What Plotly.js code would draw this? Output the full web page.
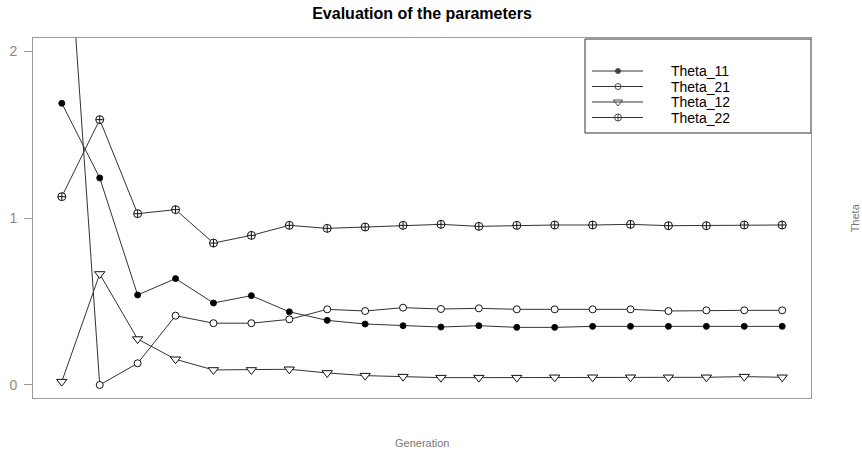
<!DOCTYPE html>
<html>
<head>
<meta charset="utf-8">
<script src="https://cdn.plot.ly/plotly-3.0.1.min.js"></script>
<style>html,body{margin:0;padding:0;background:#fff;}#chart{width:862px;height:456px;}</style>
</head>
<body>
<div id="chart"></div>
<script>
// Generations 1..20
const generation = [1,2,3,4,5,6,7,8,9,10,11,12,13,14,15,16,17,18,19,20];

// Parameter estimates per generation
const theta11 = [1.687,1.240,0.539,0.637,0.491,0.535,0.438,0.387,0.365,0.355,0.347,0.355,0.345,0.345,0.351,0.351,0.351,0.351,0.351,0.351];
const theta21 = [3.30,0.000,0.130,0.415,0.370,0.370,0.393,0.453,0.443,0.463,0.455,0.459,0.453,0.453,0.453,0.453,0.443,0.447,0.447,0.447];
const theta12 = [0.020,0.665,0.275,0.154,0.090,0.090,0.094,0.072,0.056,0.050,0.044,0.044,0.044,0.046,0.046,0.046,0.046,0.046,0.050,0.046];
const theta22 = [1.128,1.589,1.026,1.050,0.850,0.896,0.956,0.938,0.946,0.956,0.962,0.950,0.956,0.958,0.958,0.962,0.954,0.954,0.958,0.958];

const seriesNames = ['Theta_11','Theta_21','Theta_12','Theta_22'];
const seriesData = [theta11, theta21, theta12, theta22];

// Marker styles (R pch 19, 1, 6, 10 look-alikes)
const styles = [
  {symbol:'circle', color:'#000', size:6},
  {symbol:'circle', color:'#fff', size:7},
  {symbol:'triangle-down', color:'#fff', size:9},
  {symbol:'circle-cross', color:'#fff', size:8}
];
const lineColor = '#333';

const traces = seriesData.map((vals, i) => ({
  x: generation, y: vals, type:'scatter', mode:'lines+markers', name: seriesNames[i],
  showlegend:false, cliponaxis:true,
  line:{color:lineColor, width:1},
  marker:{symbol:styles[i].symbol, color:styles[i].color, size:styles[i].size,
          line:{color:'#111', width:1}}
}));

// Legend box, laid out in plot-area pixel units on an overlay axis pair
const key = {left:585, right:811, top:39, bottom:133, lineX0:592, lineX1:643, markX:618, textX:669,
             rows:[71, 86.5, 102, 117.5]};

traces.push({
  x: key.rows.map(() => key.markX), y: key.rows, xaxis:'x2', yaxis:'y2',
  type:'scatter', mode:'markers', showlegend:false, hoverinfo:'skip', cliponaxis:false,
  marker:{symbol:styles.map(s => s.symbol), color:styles.map(s => s.color),
          size:styles.map(s => s.size - 1), line:{color:'#000', width:1}}
});

const shapes = [
  {type:'rect', xref:'x2', yref:'y2', x0:key.left, x1:key.right, y0:key.top, y1:key.bottom,
   line:{color:'#333', width:1}, fillcolor:'#fff', layer:'below'}
];
key.rows.forEach(r => shapes.push({type:'line', xref:'x2', yref:'y2', x0:key.lineX0, x1:key.lineX1, y0:r, y1:r,
  line:{color:lineColor, width:1}}));

const annotations = seriesNames.map((n, i) => ({
  xref:'x2', yref:'y2', x:key.textX, y:key.rows[i], text:n, showarrow:false,
  xanchor:'left', yanchor:'middle', font:{family:'Liberation Sans, Arial, sans-serif', size:14, color:'#000'}
}));
annotations.push({xref:'paper', yref:'paper', x:0.5, y:-0.125, yanchor:'middle', xanchor:'center',
  text:'Generation', showarrow:false, font:{family:'Liberation Sans, Arial, sans-serif', size:11, color:'#777'}});
annotations.push({xref:'paper', yref:'paper', x:1.057, y:0.5, yanchor:'middle', xanchor:'center', textangle:-90,
  text:'Theta', showarrow:false, font:{family:'Liberation Sans, Arial, sans-serif', size:11, color:'#777'}});

const layout = {
  width:862, height:456,
  margin:{l:33, r:51, t:38, b:58, pad:0},
  paper_bgcolor:'#fff', plot_bgcolor:'rgba(0,0,0,0)',
  title:{text:'<b>Evaluation of the parameters</b>', x:0.5, xref:'paper', xanchor:'center', y:0.971, yanchor:'middle',
         font:{family:'Liberation Sans, Arial, sans-serif', size:16, color:'#000'}},
  xaxis:{range:[0.24, 20.76], showticklabels:false, ticks:'', showgrid:false, zeroline:false,
         showline:true, mirror:true, linecolor:'#999', linewidth:1},
  yaxis:{range:[-0.078, 2.078], tickvals:[0,1,2], ticktext:['0','1','2'], ticks:'outside', ticklen:8,
         tickcolor:'#999', tickwidth:1, ticklabelstandoff:4, showgrid:false, zeroline:false,
         showline:true, mirror:true, linecolor:'#999', linewidth:1,
         tickfont:{family:'Liberation Sans, Arial, sans-serif', size:14, color:'#888'}},
  xaxis2:{overlaying:'x', anchor:'y2', range:[33, 811], visible:false, fixedrange:true},
  yaxis2:{overlaying:'y', anchor:'x2', range:[398, 38], visible:false, fixedrange:true},
  shapes: shapes,
  annotations: annotations,
  showlegend:false
};

Plotly.newPlot('chart', traces, layout, {staticPlot:true, displayModeBar:false});
</script>
</body>
</html>
